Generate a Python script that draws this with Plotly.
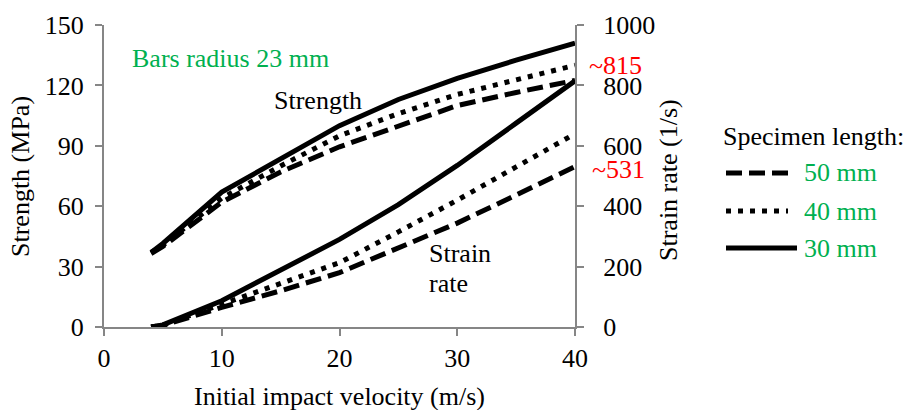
import plotly.graph_objects as go

# ---- data ----
velocity = [4.0, 5, 10, 15, 20, 25, 30, 35, 40]
strength_50 = [36.5, 40, 62, 77, 89.5, 100, 110, 116.5, 122.5]
strength_40 = [37, 40.5, 64, 80, 95, 106, 115.5, 123, 130]
strength_30 = [37, 41.5, 67, 83.5, 100, 113, 123.5, 132.5, 141]

rate_velocity = [4.0, 5, 10, 15, 20, 25, 30, 35, 40]
rate_50 = [0, 5, 65, 120, 180, 262, 344, 437, 531]
rate_40 = [0, 6, 75, 145, 213, 315, 420, 530, 640]
rate_30 = [0, 7, 87, 187, 290, 405, 535, 675, 815]

x_ticks = [0, 10, 20, 30, 40]
left_ticks = [0, 30, 60, 90, 120, 150]
right_ticks = [0, 200, 400, 600, 800, 1000]

legend_labels = ["50 mm", "40 mm", "30 mm"]

FONT = "Liberation Serif"
FS = 26
GREEN = "#00B050"
RED = "#FF0000"
GRAY = "#868686"

# plot area pixel geometry
L, R, T, B = 104, 575, 25, 327
W, H = 904, 410


def px(xp):
    return (xp - L) / (R - L)


def py(yp):
    return (B - yp) / (B - T)


styles = {
    "50": dict(dash="16px,7px", width=5),
    "40": dict(dash="5px,7px", width=5),
    "30": dict(dash="solid", width=5),
}

fig = go.Figure()
for s, key in [(strength_50, "50"), (strength_40, "40"), (strength_30, "30")]:
    fig.add_trace(go.Scatter(x=velocity, y=s, mode="lines", yaxis="y",
                             line=dict(color="black", **styles[key]),
                             showlegend=False, hoverinfo="skip"))
for r, key in [(rate_50, "50"), (rate_40, "40"), (rate_30, "30")]:
    fig.add_trace(go.Scatter(x=rate_velocity, y=r, mode="lines", yaxis="y2",
                             line=dict(color="black", **styles[key]),
                             showlegend=False, hoverinfo="skip"))

axis_common = dict(showline=True, linecolor=GRAY, linewidth=2, ticks="outside",
                   ticklen=7, tickwidth=2, tickcolor=GRAY, showgrid=False,
                   zeroline=False, tickfont=dict(family=FONT, size=FS, color="black"))

fig.update_layout(
    width=W, height=H,
    margin=dict(l=L, r=W - R, t=T, b=H - B),
    paper_bgcolor="white", plot_bgcolor="white",
    font=dict(family=FONT, size=FS, color="black"),
    xaxis=dict(range=[0, 40], tickvals=x_ticks, **axis_common),
    yaxis=dict(range=[0, 150], tickvals=left_ticks, ticklabelstandoff=6, **axis_common),
    yaxis2=dict(range=[0, 1000], tickvals=right_ticks, overlaying="y", side="right",
                ticklabelstandoff=14, **axis_common),
    showlegend=False,
)

annotations = [
    dict(text="Initial impact velocity (m/s)", x=px(339), y=py(396), color="black",
         xanchor="center"),
    dict(text="Bars radius 23 mm", x=px(130), y=py(58), color=GREEN, xanchor="left"),
    dict(text="Strength", x=px(272), y=py(100), color="black", xanchor="left"),
    dict(text="Strain", x=px(427), y=py(253), color="black", xanchor="left"),
    dict(text="rate", x=px(427), y=py(283), color="black", xanchor="left"),
    dict(text="~815", x=px(587), y=py(65), color=RED, xanchor="left"),
    dict(text="~531", x=px(590), y=py(169), color=RED, xanchor="left"),
    dict(text="Specimen length:", x=px(721), y=py(136), color="black", xanchor="left"),
]
leg_y = [173, 211, 248]
leg_x1 = [790, 788, 797]
for lab, yy in zip(legend_labels, leg_y):
    annotations.append(dict(text=lab, x=px(802), y=py(yy), color=GREEN, xanchor="left"))

for a in annotations:
    fig.add_annotation(text=a["text"], x=a["x"], y=a["y"], xref="paper", yref="paper",
                       xanchor=a["xanchor"], yanchor="middle", showarrow=False,
                       align="left",
                       font=dict(family=FONT, size=FS, color=a["color"]))

# axis titles as rotated annotations
fig.add_annotation(text="Strength (MPa)", x=px(20), y=py(177), xref="paper", yref="paper",
                   textangle=-90, showarrow=False, xanchor="center", yanchor="middle",
                   font=dict(family=FONT, size=FS, color="black"))
fig.add_annotation(text="Strain rate (1/s)", x=px(668), y=py(180), xref="paper", yref="paper",
                   textangle=-90, showarrow=False, xanchor="center", yanchor="middle",
                   font=dict(family=FONT, size=FS, color="black"))

# legend line samples
for key, yy, x1 in zip(["50", "40", "30"], leg_y, leg_x1):
    st = styles[key]
    fig.add_shape(type="line", xref="paper", yref="paper",
                  x0=px(726), x1=px(x1), y0=py(yy), y1=py(yy),
                  line=dict(color="black", width=st["width"], dash=st["dash"]))

fig.write_html("out.html", config={"displayModeBar": False},
               post_script="document.body.style.margin='0';document.body.style.overflow='hidden';")
